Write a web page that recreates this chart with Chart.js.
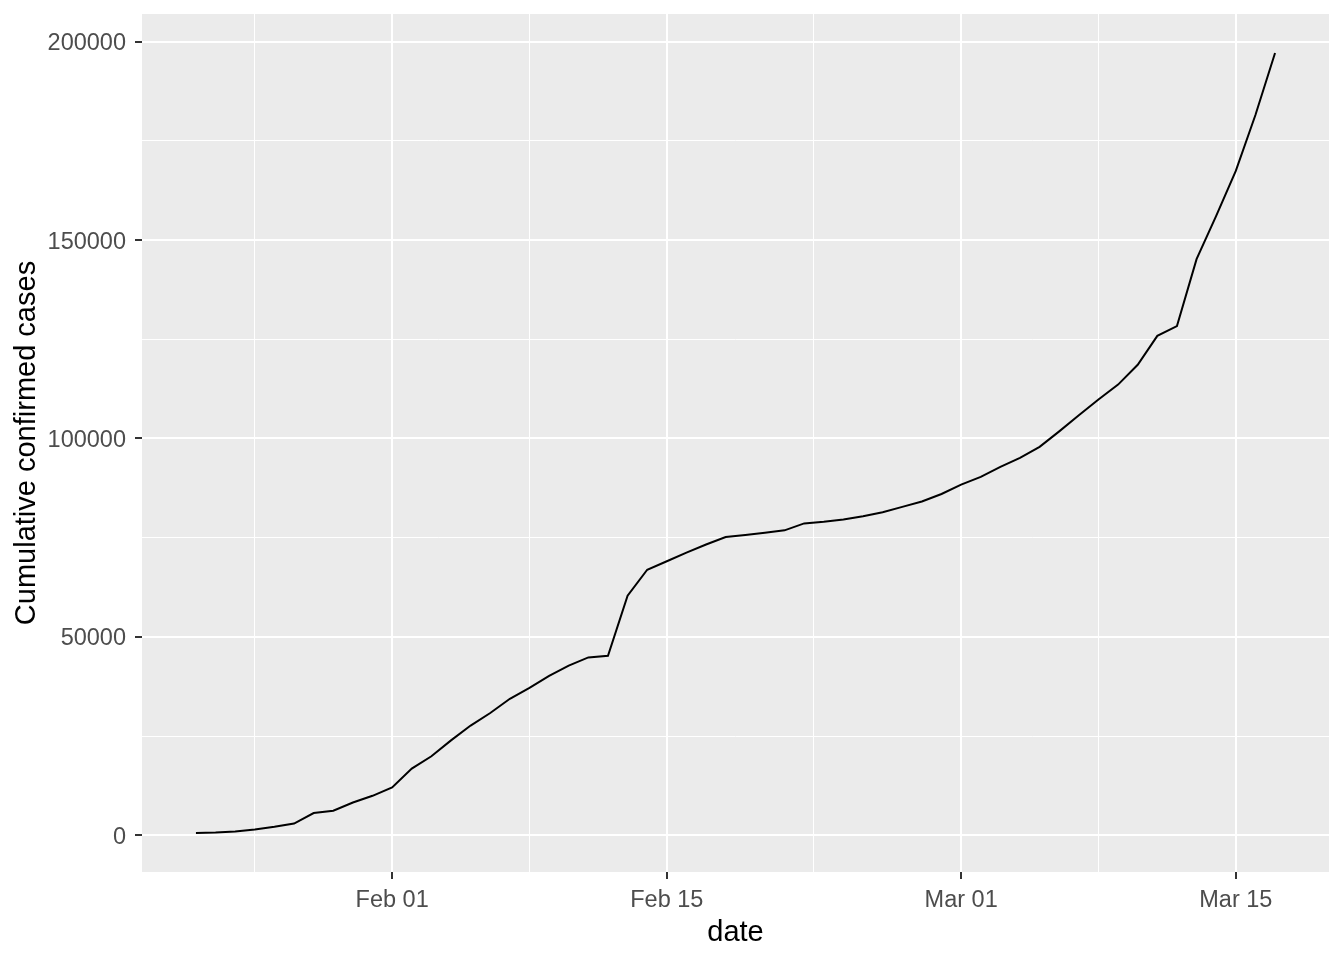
<!DOCTYPE html>
<html>
<head>
<meta charset="utf-8">
<script src="https://cdn.jsdelivr.net/npm/chart.js@4"></script>
<style>
  html, body { margin: 0; padding: 0; background: #fff; }
  #wrap { width: 1344px; height: 960px; }
</style>
</head>
<body>
<div id="wrap"><canvas id="c" width="1344" height="960"></canvas></div>
<script>
// cumulative confirmed cases, one value per day from 2020-01-22
const startDate = "2020-01-22";
const cases = [
  555, 654, 941, 1434, 2118, 2927, 5578, 6166, 8234, 9927,
  12038, 16787, 19887, 23898, 27643, 30802, 34395, 37129, 40159, 42768,
  44810, 45228, 60381, 66908, 69050, 71234, 73269, 75151, 75652, 76212,
  76840, 78599, 78985, 79570, 80415, 81397, 82756, 84124, 86013, 88371,
  90309, 92844, 95124, 97886, 101800, 105836, 109835, 113582, 118582, 125865,
  128343, 145193, 156097, 167449, 181546, 197168
];
// x axis = days since startDate
const xTickDays = [10, 24, 39, 53];
const xTickLabels = ["Feb 01", "Feb 15", "Mar 01", "Mar 15"];
const xMinorDays = [3, 17, 31.5, 46];
const yTicks = [0, 50000, 100000, 150000, 200000];
const yMinor = [25000, 75000, 125000, 175000];

const FONT = "'Liberation Sans', Arial, sans-serif";

// ggplot style range: data range + 5% each side
const nDays = cases.length - 1;
const yLo = Math.min(...cases), yHi = Math.max(...cases);
const xPad = nDays * 0.05, yPad = (yHi - yLo) * 0.05;

const pts = cases.map((v, i) => ({ x: i, y: v }));

const panelBg = {
  id: "panelBg",
  beforeDraw(chart) {
    const a = chart.chartArea, ctx = chart.ctx;
    ctx.save();
    ctx.fillStyle = "#EBEBEB";
    ctx.fillRect(a.left, a.top, a.right - a.left, a.bottom - a.top);
    ctx.restore();
  }
};

function axisGrid(majors) {
  const isMaj = c => c.tick && majors.includes(c.tick.value);
  return {
    color: "#FFFFFF",
    lineWidth: c => isMaj(c) ? 2 : 1,
    drawTicks: true,
    tickLength: 7,
    tickWidth: 2,
    tickColor: c => isMaj(c) ? "#333333" : "rgba(0,0,0,0)"
  };
}

new Chart(document.getElementById("c"), {
  type: "line",
  data: { datasets: [{ data: pts, borderColor: "#000000", borderWidth: 2, pointRadius: 0, tension: 0, fill: false }] },
  options: {
    responsive: false,
    animation: false,
    layout: { padding: { top: 14, right: 15, left: 0, bottom: 0 } },
    plugins: { legend: { display: false }, tooltip: { enabled: false } },
    scales: {
      x: {
        type: "linear",
        min: -xPad, max: nDays + xPad,
        border: { display: false },
        grid: axisGrid(xTickDays),
        afterBuildTicks: s => { s.ticks = xTickDays.concat(xMinorDays).sort((a, b) => a - b).map(v => ({ value: v })); },
        afterFit: s => { s.height = 88; s.paddingLeft = 0; s.paddingRight = 0; },
        ticks: {
          autoSkip: false, maxRotation: 0, padding: 7, color: "#4D4D4D",
          font: { family: FONT, size: 23.5 },
          callback: v => { const i = xTickDays.indexOf(v); return i >= 0 ? xTickLabels[i] : ""; }
        },
        title: { display: true, text: "date", color: "#000000", font: { family: FONT, size: 29 }, padding: { top: 0, bottom: 10 } }
      },
      y: {
        type: "linear",
        min: yLo - yPad, max: yHi + yPad,
        border: { display: false },
        grid: axisGrid(yTicks),
        afterBuildTicks: s => { s.ticks = yTicks.concat(yMinor).sort((a, b) => a - b).map(v => ({ value: v })); },
        afterFit: s => { s.width = 142; s.paddingTop = 0; s.paddingBottom = 0; },
        ticks: {
          autoSkip: false, padding: 9, labelOffset: 2, color: "#4D4D4D",
          font: { family: FONT, size: 23.5 },
          callback: v => yTicks.includes(v) ? String(v) : ""
        },
        title: { display: true, text: "Cumulative confirmed cases", color: "#000000", font: { family: FONT, size: 29 }, padding: { top: 10, bottom: 0 } }
      }
    }
  },
  plugins: [panelBg]
});
</script>
</body>
</html>
